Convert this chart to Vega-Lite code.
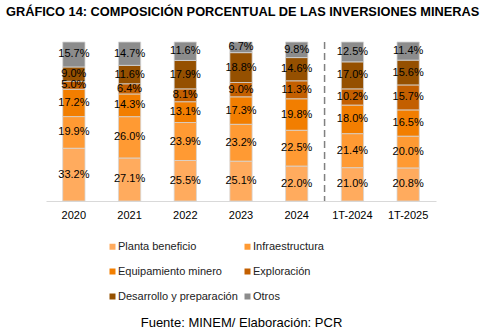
{
  "$schema": "https://vega.github.io/schema/vega-lite/v6.json",
  "width": 390,
  "height": 159,
  "autosize": {"type": "none"},
  "padding": {"left": 46, "top": 42, "right": 49, "bottom": 127},
  "background": "white",
  "config": {
    "font": "Liberation Sans",
    "view": {"stroke": null}
  },
  "title": {
    "text": "GRÁFICO 14: COMPOSICIÓN PORCENTUAL DE LAS INVERSIONES MINERAS",
    "anchor": "start",
    "frame": "group",
    "dx": -40,
    "offset": 9,
    "baseline": "bottom",
    "fontSize": 12.8,
    "fontWeight": "bold",
    "color": "#000000",
    "font": "Liberation Sans"
  },
  "data": {
    "values": [
      {"p": "2020", "c": "Planta beneficio", "k": 1, "v": 0.332},
      {"p": "2020", "c": "Infraestructura", "k": 2, "v": 0.199},
      {"p": "2020", "c": "Equipamiento minero", "k": 3, "v": 0.172},
      {"p": "2020", "c": "Exploración", "k": 4, "v": 0.050},
      {"p": "2020", "c": "Desarrollo y preparación", "k": 5, "v": 0.090},
      {"p": "2020", "c": "Otros", "k": 6, "v": 0.157},
      {"p": "2021", "c": "Planta beneficio", "k": 1, "v": 0.271},
      {"p": "2021", "c": "Infraestructura", "k": 2, "v": 0.260},
      {"p": "2021", "c": "Equipamiento minero", "k": 3, "v": 0.143},
      {"p": "2021", "c": "Exploración", "k": 4, "v": 0.064},
      {"p": "2021", "c": "Desarrollo y preparación", "k": 5, "v": 0.116},
      {"p": "2021", "c": "Otros", "k": 6, "v": 0.147},
      {"p": "2022", "c": "Planta beneficio", "k": 1, "v": 0.255},
      {"p": "2022", "c": "Infraestructura", "k": 2, "v": 0.239},
      {"p": "2022", "c": "Equipamiento minero", "k": 3, "v": 0.131},
      {"p": "2022", "c": "Exploración", "k": 4, "v": 0.081},
      {"p": "2022", "c": "Desarrollo y preparación", "k": 5, "v": 0.179},
      {"p": "2022", "c": "Otros", "k": 6, "v": 0.116},
      {"p": "2023", "c": "Planta beneficio", "k": 1, "v": 0.251},
      {"p": "2023", "c": "Infraestructura", "k": 2, "v": 0.232},
      {"p": "2023", "c": "Equipamiento minero", "k": 3, "v": 0.173},
      {"p": "2023", "c": "Exploración", "k": 4, "v": 0.090},
      {"p": "2023", "c": "Desarrollo y preparación", "k": 5, "v": 0.188},
      {"p": "2023", "c": "Otros", "k": 6, "v": 0.067},
      {"p": "2024", "c": "Planta beneficio", "k": 1, "v": 0.220},
      {"p": "2024", "c": "Infraestructura", "k": 2, "v": 0.225},
      {"p": "2024", "c": "Equipamiento minero", "k": 3, "v": 0.198},
      {"p": "2024", "c": "Exploración", "k": 4, "v": 0.113},
      {"p": "2024", "c": "Desarrollo y preparación", "k": 5, "v": 0.146},
      {"p": "2024", "c": "Otros", "k": 6, "v": 0.098},
      {"p": "1T-2024", "c": "Planta beneficio", "k": 1, "v": 0.210},
      {"p": "1T-2024", "c": "Infraestructura", "k": 2, "v": 0.214},
      {"p": "1T-2024", "c": "Equipamiento minero", "k": 3, "v": 0.180},
      {"p": "1T-2024", "c": "Exploración", "k": 4, "v": 0.102},
      {"p": "1T-2024", "c": "Desarrollo y preparación", "k": 5, "v": 0.170},
      {"p": "1T-2024", "c": "Otros", "k": 6, "v": 0.125},
      {"p": "1T-2025", "c": "Planta beneficio", "k": 1, "v": 0.208},
      {"p": "1T-2025", "c": "Infraestructura", "k": 2, "v": 0.200},
      {"p": "1T-2025", "c": "Equipamiento minero", "k": 3, "v": 0.165},
      {"p": "1T-2025", "c": "Exploración", "k": 4, "v": 0.157},
      {"p": "1T-2025", "c": "Desarrollo y preparación", "k": 5, "v": 0.156},
      {"p": "1T-2025", "c": "Otros", "k": 6, "v": 0.114}
    ]
  },
  "encoding": {
    "x": {
      "field": "p",
      "type": "nominal",
      "sort": null,
      "scale": {"paddingInner": 0, "paddingOuter": 0},
      "axis": {
        "labelAngle": 0,
        "ticks": false,
        "domainColor": "#d9d9d9",
        "labelFontSize": 11,
        "labelColor": "#000000",
        "labelPadding": 8,
        "labelFont": "Liberation Sans",
        "title": "Fuente: MINEM/ Elaboración: PCR",
        "titleFontSize": 13,
        "titleFontWeight": "normal",
        "titleColor": "#000000",
        "titleFont": "Liberation Sans",
        "titleBaseline": "bottom",
        "titleY": 128
      }
    }
  },
  "layer": [
    {
      "mark": {"type": "bar", "width": {"band": 0.4}, "stroke": "#d6d6d6", "strokeWidth": 0.8},
      "encoding": {
        "y": {"field": "v", "type": "quantitative", "stack": "normalize", "axis": null},
        "order": {"field": "k", "type": "quantitative"},
        "color": {
          "field": "c",
          "type": "nominal",
          "sort": ["Planta beneficio", "Infraestructura", "Equipamiento minero", "Exploración", "Desarrollo y preparación", "Otros"],
          "scale": {
            "domain": ["Planta beneficio", "Infraestructura", "Equipamiento minero", "Exploración", "Desarrollo y preparación", "Otros"],
            "range": ["#FFAB5E", "#FF9A33", "#F27E00", "#C35F00", "#955000", "#8C8C8C"]
          },
          "legend": {
            "title": null,
            "orient": "none",
            "legendX": 61,
            "legendY": 199,
            "columns": 2,
            "direction": "horizontal",
            "symbolType": "square",
            "symbolSize": 36,
            "symbolStrokeWidth": 0,
            "labelFontSize": 11,
            "labelColor": "#222222",
            "labelFont": "Liberation Sans",
            "labelOffset": 0,
            "rowPadding": 13,
            "columnPadding": 4,
            "padding": 0,
            "labelLimit": 200
          }
        }
      }
    },
    {
      "mark": {"type": "text", "fontSize": 11, "color": "#000000", "font": "Liberation Sans"},
      "encoding": {
        "y": {"field": "v", "type": "quantitative", "stack": "normalize", "bandPosition": 0.5},
        "order": {"field": "k", "type": "quantitative"},
        "detail": {"field": "c"},
        "text": {"field": "v", "type": "quantitative", "format": ".1%"}
      }
    },
    {
      "transform": [{"filter": "datum.p == '1T-2024' && datum.k == 1"}],
      "mark": {"type": "rule", "color": "#808080", "strokeWidth": 1.5, "strokeDash": [7, 4]},
      "encoding": {
        "x": {"field": "p", "type": "nominal", "sort": null, "bandPosition": 0}
      }
    }
  ]
}
